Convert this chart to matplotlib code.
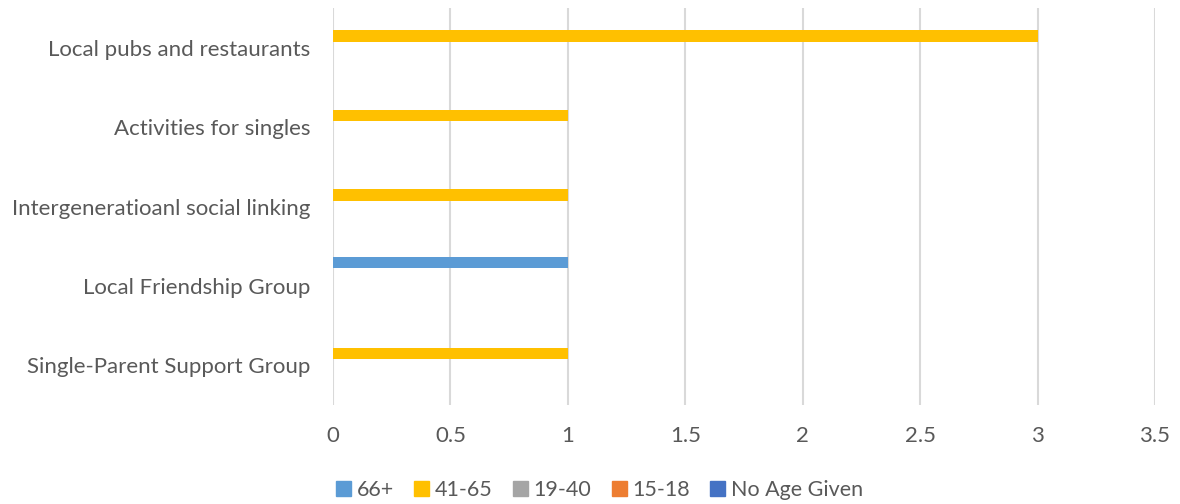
import numpy as np
import matplotlib.pyplot as plt
from matplotlib.patches import Patch

# categories bottom to top
categories = ["Single-Parent Support Group", "Local Friendship Group",
              "Intergeneratioanl social linking", "Activities for singles",
              "Local pubs and restaurants"]
series_names = ["66+", "41-65", "19-40", "15-18", "No Age Given"]
age_66 = [0, 1, 0, 0, 0]
age_41_65 = [1, 0, 1, 1, 3]
age_19_40 = [0, 0, 0, 0, 0]
age_15_18 = [0, 0, 0, 0, 0]
no_age = [0, 0, 0, 0, 0]
colors = ["#5b9bd5", "#ffc000", "#a5a5a5", "#ed7d31", "#4472c4"]

plt.rcParams['font.family'] = ['Lato', 'DejaVu Sans']
fig = plt.figure(figsize=(11.8, 5.04), dpi=100)
ax = fig.add_axes([0.2822, 0.1964, 0.6966, 0.7876])

y = np.arange(len(categories))
w = 0.147
all_series = [age_66, age_41_65, age_19_40, age_15_18, no_age]
for k, (vals, c) in enumerate(zip(all_series, colors)):
    ax.barh(y + (2 - k) * w, vals, height=w, color=c, zorder=3)

ax.set_ylim(-0.5, len(categories) - 0.5)
ax.set_xlim(0, 3.5)
ax.set_xticks(np.arange(0, 3.51, 0.5))
ax.set_xticklabels(["0", "0.5", "1", "1.5", "2", "2.5", "3", "3.5"])
ax.set_yticks(y)
ax.set_yticklabels(categories)
ax.tick_params(length=0, labelsize=16, colors="#595959")
ax.tick_params(axis='y', pad=16.5)
ax.tick_params(axis='x', pad=15)
ax.grid(axis='x', color="#d9d9d9", linewidth=1.5, zorder=0)
for s in ax.spines.values():
    s.set_visible(False)

handles = [Patch(color=c) for c in colors]
fig.legend(handles, series_names, loc='center', bbox_to_anchor=(0.508, 0.027),
           ncol=5, frameon=False, fontsize=15.5, labelcolor="#595959",
           handlelength=0.7, handleheight=0.7, handletextpad=0.25, columnspacing=0.95)

fig.savefig("out.png", dpi=100)
